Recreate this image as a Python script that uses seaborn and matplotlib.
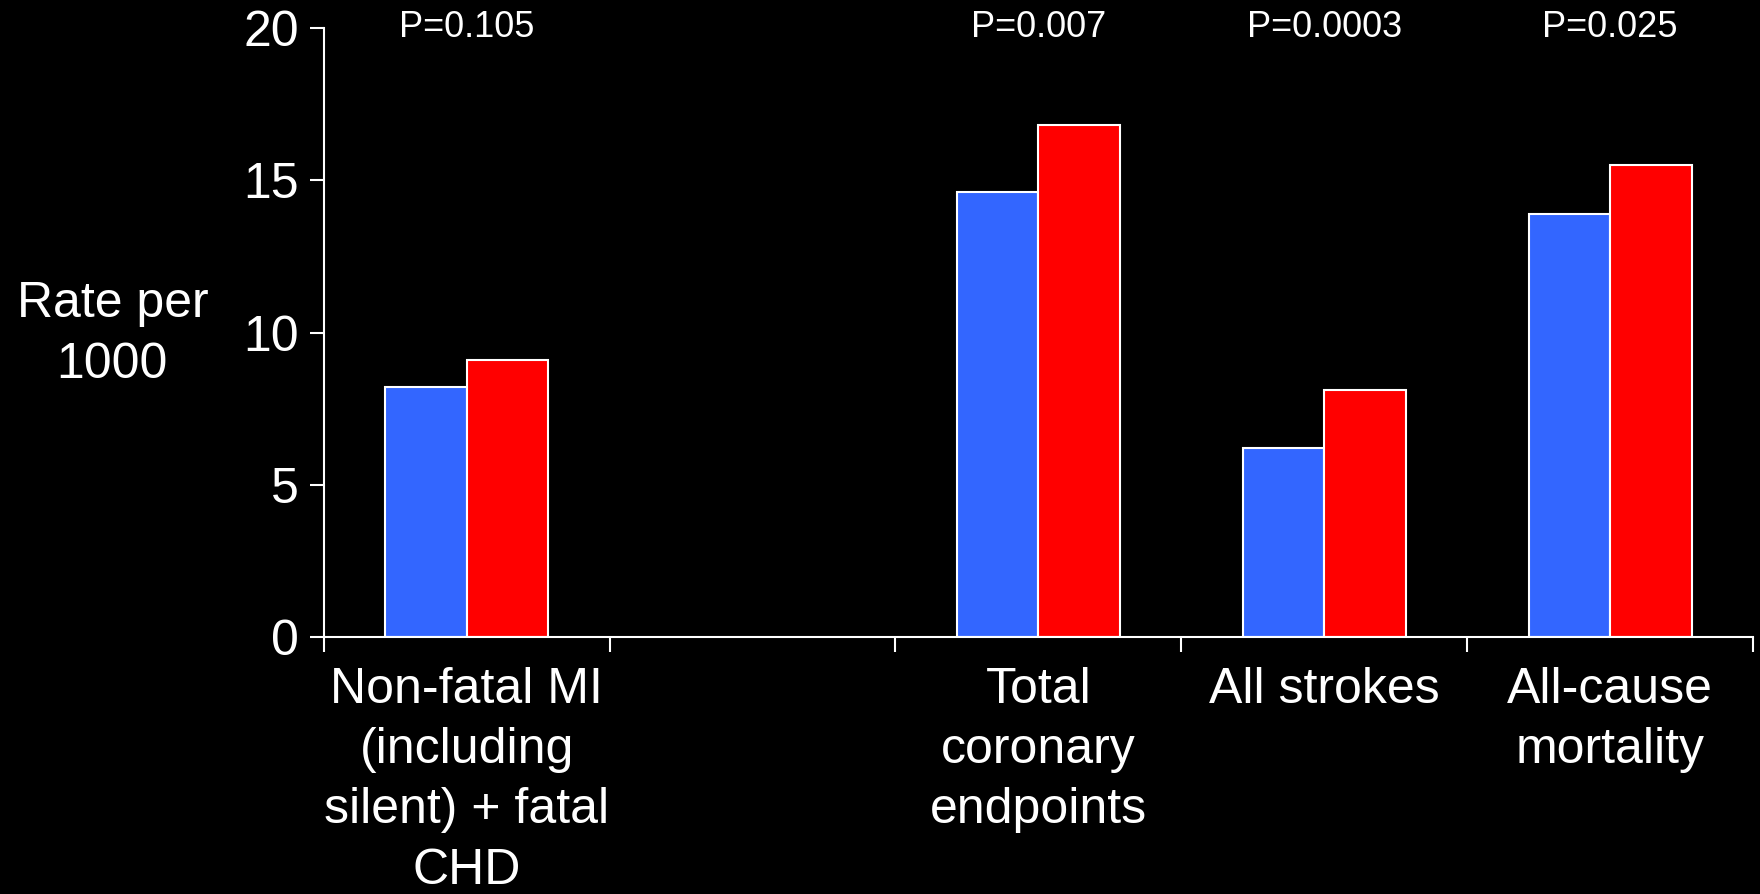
import numpy as np
import pandas as pd
import seaborn as sns
import matplotlib.pyplot as plt

# Values (rate per 1000); second slot is an empty category
endpoints = ["Non-fatal MI\n(including\nsilent) + fatal\nCHD", " ",
             "Total\ncoronary\nendpoints", "All strokes", "All-cause\nmortality"]
arms = ["Amlodipine ± perindopril", "Atenolol ± thiazide"]
amlodipine_rate = [8.2, np.nan, 14.6, 6.2, 13.9]
atenolol_rate = [9.1, np.nan, 16.8, 8.1, 15.5]
p_labels = ["P=0.105", "", "P=0.007", "P=0.0003", "P=0.025"]
y_ticks = [0, 5, 10, 15, 20]

df = pd.DataFrame({
    "endpoint": endpoints * 2,
    "arm": [arms[0]] * len(endpoints) + [arms[1]] * len(endpoints),
    "rate": amlodipine_rate + atenolol_rate,
})

sns.set_style("ticks", {"axes.facecolor": "black", "figure.facecolor": "black"})
plt.rcParams["font.family"] = ["Liberation Sans", "DejaVu Sans"]

fig = plt.figure(figsize=(17.6, 8.94), dpi=100, facecolor="black")
ax = fig.add_axes([0.184, 0.287, 0.812, 0.682])
ax.set_facecolor("black")

sns.barplot(data=df, x="endpoint", y="rate", hue="arm", order=endpoints,
            hue_order=arms, palette=["#3366FF", "#FF0000"], saturation=1,
            width=0.57, edgecolor="white", linewidth=1.5, errorbar=None,
            legend=False, ax=ax)

ax.set_xlim(-0.5, len(endpoints) - 0.5)
ax.set_ylim(0, 20)
ax.set_yticks(y_ticks)

# category boundaries carry the tick marks, labels sit at the centres
ax.set_xticks(np.arange(len(endpoints) + 1) - 0.5, minor=True)
ax.tick_params(axis="x", which="major", length=0, pad=21, labelsize=36, colors="white")
ax.tick_params(axis="x", which="minor", length=11, width=1.5, color="white", direction="out")
ax.tick_params(axis="y", length=10, width=1.5, pad=8, labelsize=36, colors="white")
for lab in ax.get_xticklabels():
    lab.set_linespacing(1.4)

for side in ["top", "right"]:
    ax.spines[side].set_visible(False)
for side in ["left", "bottom"]:
    ax.spines[side].set_color("white")
    ax.spines[side].set_linewidth(1.5)

for i, p in enumerate(p_labels):
    ax.text(i, 20, p, ha="center", va="center", fontsize=26, color="white")

ax.set_xlabel("")
ax.set_ylabel("Rate per\n1000", rotation=0, fontsize=36, color="white",
              ha="center", va="center", linespacing=1.4)
ax.yaxis.set_label_coords(-0.148, 0.497)

fig.savefig("out.png", dpi=100, facecolor="black")
